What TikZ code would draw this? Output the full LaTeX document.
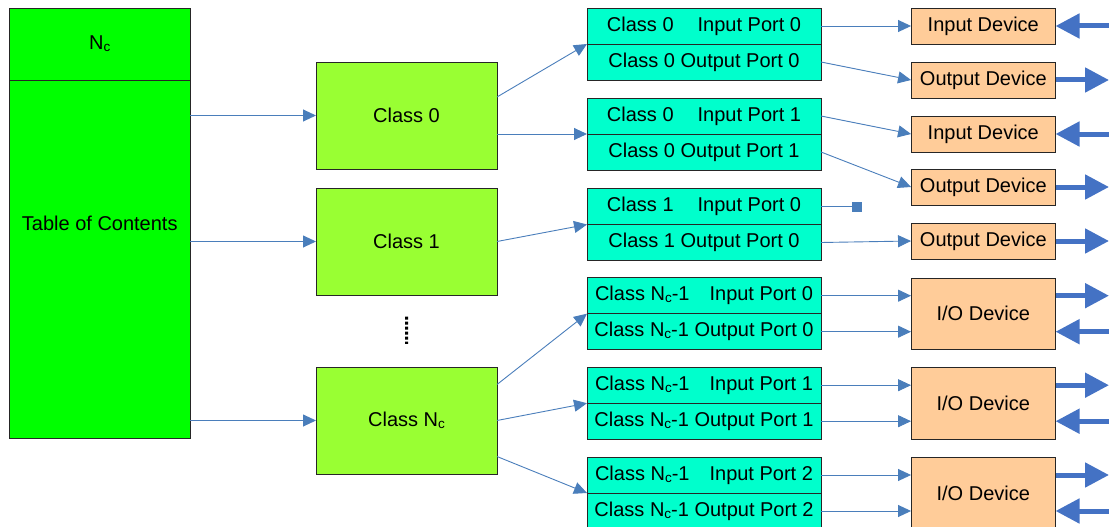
\documentclass[tikz,border=0pt]{standalone}
\usepackage{fontspec}
\setmainfont{Liberation Sans}
\usetikzlibrary{arrows.meta,calc}
\definecolor{tocgreen}{RGB}{0,255,0}
\definecolor{clsgreen}{RGB}{153,255,51}
\definecolor{portcyan}{RGB}{0,255,204}
\definecolor{devpeach}{RGB}{255,204,153}
\definecolor{linkblue}{RGB}{74,126,187}
\definecolor{flowblue}{RGB}{68,114,196}
\newcommand{\Nc}{N\raisebox{-2pt}{\fontsize{13.5}{14}\selectfont c}}
\newcommand{\gapA}{\hskip 24pt}
\newcommand{\gapB}{\hskip 20pt}

\begin{document}
\begin{tikzpicture}[x=1pt,y=-1pt,
  every node/.style={font=\fontsize{20}{24}\selectfont, inner sep=0pt, outer sep=0pt},
  box/.style={draw=black!85, line width=0.9pt},
  tocbox/.style={box, fill=tocgreen, minimum width=180.5pt},
  clsbox/.style={box, fill=clsgreen, minimum width=181pt, minimum height=107pt},
  portbox/.style={box, fill=portcyan, minimum width=234pt, minimum height=36pt},
  devbox/.style={box, fill=devpeach, minimum width=144.5pt, minimum height=#1},
  devbox/.default=36pt,
  link/.style={draw=linkblue, line width=0.9pt, -{Triangle[length=13pt,width=12pt]}},
  flow/.style={draw=flowblue, line width=5pt, -{Triangle[length=24pt,width=24pt]}},
]
\useasboundingbox (0,0) rectangle (1109,527);
\clip (0,0) rectangle (1109,527);

% table of contents with its header
\node[tocbox, minimum height=430pt] (toc) at (99.75,223) {Table of Contents};
\node[tocbox, minimum height=72pt] (hdr) at (99.75,44) {\Nc};

% class records
\node[clsbox] (c0) at (406.5,115.5) {Class 0};
\node[clsbox] (c1) at (406.5,241.5) {Class 1};
\node[clsbox] (cN) at (406.5,420.5) {Class \Nc};
\draw[line width=3pt, dash pattern=on 3pt off 2pt]
  ($(c1.south)!0.3!(cN.north)$) -- ($(c1.south)!0.68!(cN.north)$);

% port pairs
\node[portbox] (p1i) at (704,26)    {Class 0\gapA Input Port 0};
\node[portbox] (p1o) at (704,62)    {Class 0 Output Port 0};
\node[portbox] (p2i) at (704,116)   {Class 0\gapA Input Port 1};
\node[portbox] (p2o) at (704,152)   {Class 0 Output Port 1};
\node[portbox] (p3i) at (704,206.5) {Class 1\gapA Input Port 0};
\node[portbox] (p3o) at (704,242.5) {Class 1 Output Port 0};
\node[portbox] (p4i) at (704,295.7) {Class \Nc-1\gapB Input Port 0};
\node[portbox] (p4o) at (704,331.7) {Class \Nc-1 Output Port 0};
\node[portbox] (p5i) at (704,385.2) {Class \Nc-1\gapB Input Port 1};
\node[portbox] (p5o) at (704,421.2) {Class \Nc-1 Output Port 1};
\node[portbox] (p6i) at (704,475)   {Class \Nc-1\gapB Input Port 2};
\node[portbox] (p6o) at (704,511)   {Class \Nc-1 Output Port 2};

% devices
\node[devbox] (in1)  at (983.3,26)  {Input Device};
\node[devbox] (out1) at (983.3,80)  {Output Device};
\node[devbox] (in2)  at (983.3,134) {Input Device};
\node[devbox] (out2) at (983.3,187) {Output Device};
\node[devbox] (out3) at (983.3,241) {Output Device};
\node[devbox=71.5pt] (io1) at (983.3,313.7) {I/O Device};
\node[devbox=72pt]   (io2) at (983.3,403)   {I/O Device};
\node[devbox=72pt]   (io3) at (983.3,493)   {I/O Device};

% free ends
\coordinate (edge) at (1109,0);
\coordinate (stub) at (862,206.5);

% table of contents -> classes
\draw[link] (toc.east |- c0.west) -- (c0.west);
\draw[link] (toc.east |- c1.west) -- (c1.west);
\draw[link] (toc.east |- cN.west) -- (cN.west);

% classes -> ports
\draw[link] ([yshift=18.5pt]c0.east)  -- (p1i.south west);
\draw[link] ([yshift=-18.5pt]c0.east) -- (p2i.south west);
\draw[link] (c1.east) -- (p3i.south west);
\draw[link] ([yshift=36pt]cN.east)  -- (p4i.south west);
\draw[link] (cN.east)               -- (p5i.south west);
\draw[link] ([yshift=-36pt]cN.east) -- (p6i.south west);

% ports -> devices
\draw[link] (p1i.east) -- (in1.west);
\draw[link] (p1o.east) -- (out1.west);
\draw[link] (p2i.east) -- (in2.west);
\draw[link] (p2o.east) -- (out2.west);
\draw[draw=linkblue, line width=0.9pt, -{Square[length=10pt,width=10pt]}, fill=linkblue]
  (p3i.east) -- (stub);
\draw[link] (p3o.east) -- (out3.west);
\draw[link] (p4i.east) -- (p4i.east -| io1.west);
\draw[link] (p4o.east) -- (p4o.east -| io1.west);
\draw[link] (p5i.east) -- (p5i.east -| io2.west);
\draw[link] (p5o.east) -- (p5o.east -| io2.west);
\draw[link] (p6i.east) -- (p6i.east -| io3.west);
\draw[link] (p6o.east) -- (p6o.east -| io3.west);

% external data flow
\draw[flow] (edge |- in1.east) -- (in1.east);
\draw[flow] (out1.east) -- (edge |- out1.east);
\draw[flow] (edge |- in2.east) -- (in2.east);
\draw[flow] (out2.east) -- (edge |- out2.east);
\draw[flow] (out3.east) -- (edge |- out3.east);
\draw[flow] (io1.east |- p4i.east) -- (edge |- p4i.east);
\draw[flow] (edge |- p4o.east) -- (io1.east |- p4o.east);
\draw[flow] (io2.east |- p5i.east) -- (edge |- p5i.east);
\draw[flow] (edge |- p5o.east) -- (io2.east |- p5o.east);
\draw[flow] (io3.east |- p6i.east) -- (edge |- p6i.east);
\draw[flow] (edge |- p6o.east) -- (io3.east |- p6o.east);
\end{tikzpicture}
\end{document}
